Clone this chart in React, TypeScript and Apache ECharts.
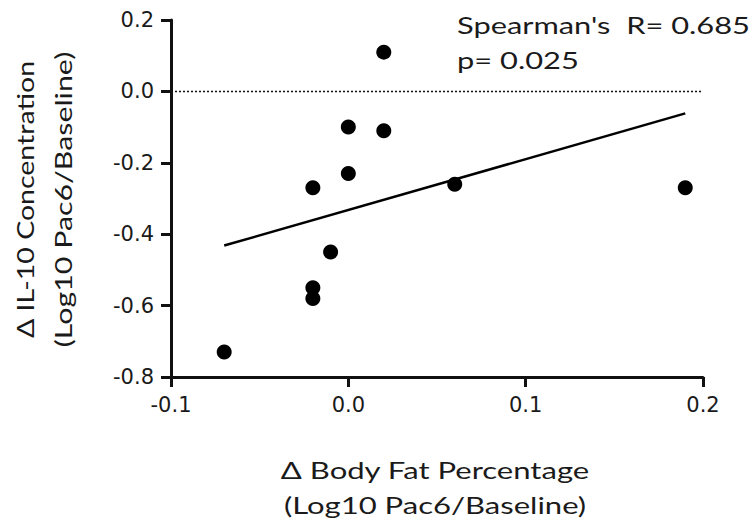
import React, { useEffect, useRef } from "react";
import * as echarts from "echarts";

const xValues = [0.02, 0.0, 0.02, 0.0, -0.02, 0.06, 0.19, -0.01, -0.02, -0.02, -0.07];
const yValues = [0.11, -0.1, -0.11, -0.23, -0.27, -0.26, -0.27, -0.45, -0.55, -0.58, -0.73];

const xTitle = ["\u0394 Body Fat Percentage", "(Log10 Pac6/Baseline)"];
const yTitle = ["\u0394 IL-10 Concentration", "(Log10 Pac6/Baseline)"];
const statLines = ["Spearman's  R= 0.685", "p= 0.025"];

function fitLine(xs: number[], ys: number[]) {
  const n = xs.length;
  const mx = xs.reduce((a, b) => a + b, 0) / n;
  const my = ys.reduce((a, b) => a + b, 0) / n;
  let sxy = 0;
  let sxx = 0;
  for (let i = 0; i < n; i++) {
    sxy += (xs[i] - mx) * (ys[i] - my);
    sxx += (xs[i] - mx) * (xs[i] - mx);
  }
  const b = sxy / sxx;
  const a = my - b * mx;
  const x0 = Math.min(...xs);
  const x1 = Math.max(...xs);
  return [
    [x0, a + b * x0],
    [x1, a + b * x1],
  ];
}

export default function App() {
  const ref = useRef<HTMLDivElement>(null);
  useEffect(() => {
    if (!ref.current) return;
    const chart = echarts.init(ref.current, null, { renderer: "svg" });
    const textColor = "#1a1a1a";
    const titleFont = "Lato";
    const axisCommon = {
      splitLine: { show: false },
      axisLine: { show: true, onZero: false, lineStyle: { color: "#111", width: 3 } },
      axisTick: { show: true, inside: false, length: 10, lineStyle: { color: "#111", width: 3 } },
      axisLabel: {
        formatter: (v: number) => v.toFixed(1),
        fontFamily: "DejaVu Sans",
        fontSize: 21,
        color: textColor,
        margin: 17,
      },
    };
    const titleText = (
      text: string,
      x: number,
      y: number,
      align: string,
      stretch: number,
      rot = 0
    ) => ({
      type: "text",
      x,
      y,
      rotation: rot,
      scaleX: stretch,
      style: {
        text,
        fontFamily: titleFont,
        fontSize: 23,
        fill: textColor,
        textAlign: align,
        textVerticalAlign: "middle",
      },
    });
    chart.setOption({
      animation: false,
      backgroundColor: "#fff",
      grid: { left: 171, right: 52, top: 20, bottom: 145, containLabel: false },
      xAxis: { type: "value", min: -0.1, max: 0.2, interval: 0.1, ...axisCommon },
      yAxis: { type: "value", min: -0.8, max: 0.2, interval: 0.2, ...axisCommon },
      series: [
        {
          type: "scatter",
          data: xValues.map((x, i) => [x, yValues[i]]),
          symbol: "circle",
          symbolSize: 15,
          itemStyle: { color: "#000", opacity: 1 },
          markLine: {
            silent: true,
            symbol: "none",
            label: { show: false },
            lineStyle: { type: [2, 2], color: "#111", width: 1.4, opacity: 1 },
            data: [{ yAxis: 0 }],
          },
          z: 3,
        },
        {
          type: "line",
          data: fitLine(xValues, yValues),
          symbol: "none",
          lineStyle: { color: "#000", width: 2.5 },
          z: 2,
        },
      ],
      graphic: [
        titleText(statLines[0], 457, 25, "left", 1.34),
        titleText(statLines[1], 457, 60, "left", 1.34),
        titleText(xTitle[0], 435, 470, "center", 1.35),
        titleText(xTitle[1], 435, 505, "center", 1.35),
        titleText(yTitle[0], 25, 199.5, "center", 1.24, Math.PI / 2),
        titleText(yTitle[1], 63, 199.5, "center", 1.32, Math.PI / 2),
      ],
    });
    return () => chart.dispose();
  }, []);
  return (
    <div
      ref={ref}
      style={{ position: "fixed", left: 0, top: 0, width: 755, height: 522 }}
    />
  );
}
